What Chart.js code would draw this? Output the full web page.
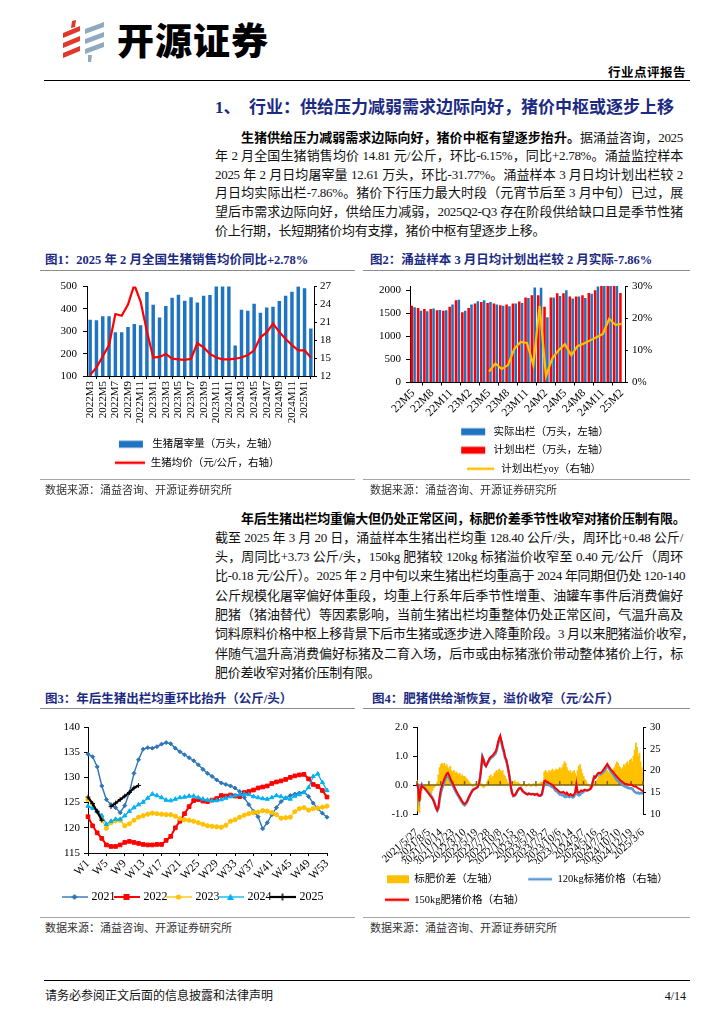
<!DOCTYPE html>
<html lang="zh-CN">
<head>
<meta charset="utf-8">
<title>开源证券 行业点评报告</title>
<script src="https://cdn.jsdelivr.net/npm/chart.js@4.4.1/dist/chart.umd.min.js"></script>
<style>
  html, body { margin: 0; padding: 0; background: #fff; }
  body { position: relative; width: 724px; height: 1024px; overflow: hidden;
         font-family: "Liberation Serif", "Noto Sans CJK SC", serif; color: #000; }
  .a { position: absolute; white-space: nowrap; }
  .rule { position: absolute; height: 0; }
  .logo-name { left: 117px; top: 21px; font: 900 37px/37px "Noto Sans CJK SC", sans-serif; letter-spacing: 1px; }
  .doc-type { right: 38px; top: 64px; font: 700 12.5px/16px "Noto Sans CJK SC", sans-serif; letter-spacing: 0.5px; }
  .h1 { left: 215px; top: 97px; font: 700 17px/22px "Liberation Serif", "Noto Sans CJK SC", serif; color: #1b2a82; }
  .ln { position: absolute; left: 215px; width: 468px; height: 19px; font-size: 13px; line-height: 19px;
        white-space: nowrap; text-align: justify; text-align-last: justify; letter-spacing: -0.3px; color: #111; }
  .ln.in { left: 241px; width: 442px; }
  .ln.end { text-align-last: left; }
  .ln b { font-weight: 700; color: #000; }
  .fig { font: 700 12.5px/16px "Liberation Serif", "Noto Sans CJK SC", serif; color: #1b2a82; }
  .src { font: 400 11px/14px "Liberation Serif", "Noto Sans CJK SC", serif; color: #333; }
  .foot { font: 400 12px/16px "Liberation Serif", "Noto Sans CJK SC", serif; color: #111; }
  canvas { position: absolute; }
</style>
</head>
<body>

<svg class="a" style="left:60px;top:19px" width="48" height="46" viewBox="60 19 48 46">
  <g fill="#e0392b">
    <polygon points="72,21 76,20 75,27 71,28"/>
    <polygon points="63,33 80,26 80,31 63,38"/>
    <polygon points="63,43 80,36 80,41 63,48"/>
    <polygon points="63,53 80,46 80,51 63,58"/>
  </g>
  <g fill="#8faabf">
    <polygon points="85,29 104,22 104,27 85,34"/>
    <polygon points="85,39 104,32 104,37 85,44"/>
    <polygon points="85,49 104,42 104,47 85,54"/>
    <polygon points="88,55 92,55 91,62 88,62"/>
  </g>
</svg>
<div class="a logo-name">开源证券</div>
<div class="a doc-type">行业点评报告</div>
<div class="rule" style="left:44px;top:80px;width:646px;border-top:1.5px solid #000"></div>

<div class="a h1">1、&nbsp;&nbsp;行业：供给压力减弱需求边际向好，猪价中枢或逐步上移</div>

<div class="ln in" style="top:127.5px"><b>生猪供给压力减弱需求边际向好，猪价中枢有望逐步抬升。</b>据涌益咨询，2025</div>
<div class="ln" style="top:146.1px">年 2 月全国生猪销售均价 14.81 元/公斤，环比-6.15%，同比+2.78%。涌益监控样本</div>
<div class="ln" style="top:164.7px">2025 年 2 月日均屠宰量 12.61 万头，环比-31.77%。涌益样本 3 月日均计划出栏较 2</div>
<div class="ln" style="top:183.3px">月日均实际出栏-7.86%。猪价下行压力最大时段（元宵节后至 3 月中旬）已过，展</div>
<div class="ln" style="top:201.9px">望后市需求边际向好，供给压力减弱，2025Q2-Q3 存在阶段供给缺口且是季节性猪</div>
<div class="ln end" style="top:220.5px">价上行期，长短期猪价均有支撑，猪价中枢有望逐步上移。</div>

<div class="a fig" style="left:45px;top:252px">图1：2025 年 2 月全国生猪销售均价同比+2.78%</div>
<div class="a fig" style="left:370px;top:252px">图2：涌益样本 3 月日均计划出栏较 2 月实际-7.86%</div>
<div class="rule" style="left:40px;top:270px;width:315px;border-top:1px solid #8c8c8c"></div>
<div class="rule" style="left:363px;top:270px;width:327px;border-top:1px solid #8c8c8c"></div>

<canvas id="chart1" width="315" height="204" style="left:40px;top:274px"></canvas>
<canvas id="chart2" width="327" height="210" style="left:363px;top:274px"></canvas>

<div class="rule" style="left:40px;top:479px;width:315px;border-top:1px solid #a6a6a6"></div>
<div class="rule" style="left:363px;top:479px;width:327px;border-top:1px solid #a6a6a6"></div>
<div class="a src" style="left:45px;top:483px">数据来源：涌益咨询、开源证券研究所</div>
<div class="a src" style="left:370px;top:483px">数据来源：涌益咨询、开源证券研究所</div>

<div class="ln in" style="top:508.5px"><b>年后生猪出栏均重偏大但仍处正常区间，标肥价差季节性收窄对猪价压制有限。</b></div>
<div class="ln" style="top:527.8px">截至 2025 年 3 月 20 日，涌益样本生猪出栏均重 128.40 公斤/头，周环比+0.48 公斤/</div>
<div class="ln" style="top:547.1px">头，周同比+3.73 公斤/头，150kg 肥猪较 120kg 标猪溢价收窄至 0.40 元/公斤（周环</div>
<div class="ln" style="top:566.4px">比-0.18 元/公斤）。2025 年 2 月中旬以来生猪出栏均重高于 2024 年同期但仍处 120-140</div>
<div class="ln" style="top:585.7px">公斤规模化屠宰偏好体重段，均重上行系年后季节性增重、油罐车事件后消费偏好</div>
<div class="ln" style="top:605px">肥猪（猪油替代）等因素影响，当前生猪出栏均重整体仍处正常区间，气温升高及</div>
<div class="ln" style="top:624.3px">饲料原料价格中枢上移背景下后市生猪或逐步进入降重阶段。3 月以来肥猪溢价收窄，</div>
<div class="ln" style="top:643.6px">伴随气温升高消费偏好标猪及二育入场，后市或由标猪涨价带动整体猪价上行，标</div>
<div class="ln end" style="top:662.9px">肥价差收窄对猪价压制有限。</div>

<div class="a fig" style="left:45px;top:691px">图3：年后生猪出栏均重环比抬升（公斤/头）</div>
<div class="a fig" style="left:372px;top:691px">图4：肥猪供给渐恢复，溢价收窄（元/公斤）</div>
<div class="rule" style="left:40px;top:708px;width:315px;border-top:1px solid #8c8c8c"></div>
<div class="rule" style="left:363px;top:708px;width:327px;border-top:1px solid #8c8c8c"></div>

<canvas id="chart3" width="315" height="201" style="left:40px;top:712px"></canvas>
<canvas id="chart4" width="335" height="203" style="left:355px;top:712px"></canvas>

<div class="rule" style="left:40px;top:917px;width:315px;border-top:1px solid #a6a6a6"></div>
<div class="rule" style="left:363px;top:917px;width:327px;border-top:1px solid #a6a6a6"></div>
<div class="a src" style="left:45px;top:921px">数据来源：涌益咨询、开源证券研究所</div>
<div class="a src" style="left:370px;top:921px">数据来源：涌益咨询、开源证券研究所</div>

<div class="rule" style="left:44px;top:980px;width:646px;border-top:1.5px solid #000"></div>
<div class="a foot" style="left:45px;top:988px">请务必参阅正文后面的信息披露和法律声明</div>
<div class="a foot" style="right:38px;top:988px">4/14</div>

<script>
// 图1：全国生猪屠宰量与均价
const months1 = ['2022M3', '2022M4', '2022M5', '2022M6', '2022M7', '2022M8', '2022M9', '2022M10', '2022M11', '2022M12',
  '2023M1', '2023M2', '2023M3', '2023M4', '2023M5', '2023M6', '2023M7', '2023M8', '2023M9', '2023M10', '2023M11', '2023M12',
  '2024M1', '2024M2', '2024M3', '2024M4', '2024M5', '2024M6', '2024M7', '2024M8', '2024M9', '2024M10', '2024M11', '2024M12',
  '2025M1', '2025M2'];
const slaughter1 = [352, 349, 367, 367, 296, 296, 319, 333, 327, 476,
  419, 362, 413, 450, 463, 437, 452, 429, 459, 462,
  515, 530, 510, 236, 396, 392, 423, 383, 407, 410,
  436, 459, 477, 502, 493, 313];
const price1 = [12.2, 13.4, 15.3, 17.2, 22.4, 22.1, 24.0, 27.3, 24.5, 19.5,
  15.1, 15.2, 15.7, 14.9, 14.8, 14.7, 14.9, 17.5, 16.8, 15.7,
  15.1, 14.8, 14.8, 14.9, 15.1, 15.5, 16.3, 18.5, 19.3, 20.8,
  19.4, 18.2, 17.2, 16.3, 16.3, 15.1];
const c1Left = [100, 200, 300, 400, 500];
const c1Right = [12, 15, 18, 21, 24, 27];

// 图2：涌益样本实际/计划出栏
const months2 = ['22M5', '22M6', '22M7', '22M8', '22M9', '22M10', '22M11', '22M12',
  '23M1', '23M2', '23M3', '23M4', '23M5', '23M6', '23M7', '23M8', '23M9', '23M10', '23M11', '23M12',
  '24M1', '24M2', '24M3', '24M4', '24M5', '24M6', '24M7', '24M8', '24M9', '24M10', '24M11', '24M12',
  '25M1', '25M2'];
const actual2 = [1640, 1560, 1550, 1610, 1580, 1570, 1700, 1800, 1560, 1700,
  1770, 1790, 1750, 1700, 1670, 1660, 1720, 1730, 1840, 2070,
  2060, 1420, 1850, 1880, 2010, 1830, 1870, 1840, 1930, 2090,
  2180, 2200, 2150, null];
const plan2 = [1670, 1620, 1600, 1600, 1570, 1560, 1650, 1790, 1530, 1620,
  1720, 1750, 1730, 1720, 1680, 1700, 1720, 1760, 1850, 1900,
  1900, 1650, 1850, 1940, 1940, 1870, 1870, 1900, 1950, 2010,
  2160, 2150, 2120, 1950];
const yoy2 = [null, null, null, null, null, null, null, null, null, null, null, null,
  3.4, 5.9, 4.2, 5.4, 10.5, 12.6, 12.3, 5.4, 23.8, 2.0,
  7.5, 10.0, 11.9, 8.5, 11.3, 12.1, 13.1, 14.1, 15.1, 19.8,
  17.9, 18.2];
const c2Left = [0, 500, 1000, 1500, 2000];
const c2Right = [0, 5, 10, 15, 20, 25, 30];

// 图3：出栏均重（公斤/头），按周
const weeks3 = ['W1', 'W2', 'W3', 'W4', 'W5', 'W6', 'W7', 'W8', 'W9', 'W10', 'W11', 'W12', 'W13', 'W14', 'W15',
  'W16', 'W17', 'W18', 'W19', 'W20', 'W21', 'W22', 'W23', 'W24', 'W25', 'W26', 'W27', 'W28', 'W29', 'W30',
  'W31', 'W32', 'W33', 'W34', 'W35', 'W36', 'W37', 'W38', 'W39', 'W40', 'W41', 'W42', 'W43', 'W44', 'W45',
  'W46', 'W47', 'W48', 'W49', 'W50', 'W51', 'W52', 'W53'];
const w2021 = [134.6, 134.1, 132.1, 128.3, 125.6, 124.6, 124.0, 123.0, 124.4, 127.0,
  130.8, 133.5, 135.6, 135.9, 135.8, 136.1, 136.6, 136.9, 136.7, 135.8,
  135.1, 134.5, 133.9, 133.3, 132.5, 131.6, 130.8, 130.2, 129.5, 128.9,
  128.6, 128.3, 127.9, 127.2, 126.0, 124.6, 123.3, 122.2, 119.8, 121.0,
  122.6, 124.0, 125.2, 125.9, 126.4, 126.7, 126.9, 127.1, 126.2, 124.9,
  123.8, 122.9, 122.1];
const w2022 = [122.2, 120.4, 119.0, 117.9, 116.6, 116.3, 116.3, 116.6, 117.1, 117.3,
  117.1, 116.9, 116.7, 116.6, 116.6, 116.7, 116.7, 117.5, 118.3, 120.0,
  121.3, 122.8, 124.2, 125.4, 125.6, 125.3, 125.2, 125.5, 125.8, 126.4,
  126.3, 126.5, 126.3, 126.2, 127.0, 127.2, 127.5, 127.9, 128.1, 128.3,
  128.8, 129.1, 129.3, 129.6, 130.0, 130.3, 130.5, 130.6, 129.7, 128.6,
  128.2, 127.4, 126.1];
const w2023 = [125.6, 124.7, 123.2, 121.6, 119.9, 121.0, 121.4, 121.5, 120.4, 120.8,
  121.5, 122.1, 122.4, 122.7, 122.9, 122.8, 122.7, 122.6, 122.6, 122.3,
  121.8, 121.6, 121.5, 121.3, 121.0, 120.7, 120.4, 120.3, 120.2, 120.1,
  120.5, 121.3, 121.6, 122.1, 122.5, 122.8, 123.0, 123.1, 123.4, 123.3,
  123.0, 122.6, 121.9, 122.0, 122.1, 123.2, 123.8, 124.0, 123.5, 123.8,
  123.9, 124.1, 124.3];
const w2024 = [124.3, 123.9, 123.3, 122.4, 120.7, 121.3, 121.7, 121.7, 122.4, 123.3,
  124.0, 124.6, 125.1, 125.9, 126.7, 126.4, 126.0, 125.5, 125.4, 125.7,
  126.0, 126.1, 126.3, 126.3, 126.0, 125.7, 125.5, 125.4, 125.4, 125.6,
  125.9, 126.2, 126.4, 126.6, 126.7, 126.6, 126.2, 126.0, 125.8, 125.7,
  126.0, 126.4, 126.2, 125.9, 125.7, 126.3, 126.6, 127.0, 128.0, 130.2,
  130.7, 129.0, 127.4];
const w2025 = [126.1, 124.8, 123.2, 121.5, null, 124.2, 124.9, 125.6, 126.3, 127.0, 127.9, 128.4];
const c3Left = [115, 120, 125, 130, 135, 140];

// 图4：标肥价差与 120kg / 150kg 价格（元/公斤），按周
const dates4 = ['2021/5/27', '2021/8/5', '2021/10/14', '2021/12/23', '2022/3/10', '2022/5/19', '2022/7/28',
  '2022/10/8', '2022/12/15', '2023/3/9', '2023/5/18', '2023/7/27', '2023/10/6', '2023/12/14',
  '2024/3/7', '2024/5/16', '2024/7/25', '2024/10/10', '2024/12/19', '2025/3/6'];
const spread4 = [0.15, -0.9, -0.95, -0.5, -0.2, -0.1, -0.05, -0.1, -0.15, -0.2,
  -0.2, -0.25, -0.3, -0.2, -0.1, -0.05, 0.0, 0.1, 0.35, 0.6,
  0.7, 0.75, 0.7, 0.75, 0.65, 0.7, 0.6, 0.55, 0.65, 0.5,
  0.45, 0.5, 0.4, 0.45, 0.4, 0.35, 0.4, 0.3, 0.35, 0.3,
  0.3, 0.25, 0.2, 0.15, 0.1, 0.05, 0.0, -0.05, 0.0, 0.05,
  0.0, -0.05, 0.0, 0.1, 0.05, -0.05, -0.1, -0.05, 0.0, 0.1,
  0.2, 0.3, 0.35, 0.25, 0.3, 0.4, 0.45, 0.5, 0.45, 0.55,
  0.5, 0.45, 0.5, 0.35, 0.3, 0.2, 0.1, 0.05, 0.0, -0.05,
  0.0, 0.1, 0.15, 0.1, 0.05, 0.1, 0.05, 0.0, -0.05, 0.0,
  0.05, 0.0, -0.05, 0.0, 0.05, 0.0, -0.05, 0.0, 0.05, 0.0,
  -0.05, 0.0, 0.05, 0.05, 0.1, 0.1, 0.1, 0.45, 0.5, 0.45,
  0.4, 0.5, 0.45, 0.5, 0.55, 0.45, 0.5, 0.55, 0.5, 0.55,
  0.6, 0.55, 0.6, 0.7, 0.8, 0.75, 0.6, 0.5, 0.45, 0.5,
  0.4, 0.45, 0.5, 0.4, 0.3, 0.5, 0.65, 0.7, 0.55, 0.4,
  0.3, 0.2, 0.15, 0.05, 0.0, -0.05, -0.1, -0.1, -0.05, 0.0,
  0.05, 0.15, 0.2, 0.3, 0.35, 0.4, 0.45, 0.5, 0.6, 0.55,
  0.5, 0.45, 0.4, 0.5, 0.45, 0.55, 0.6, 0.7, 0.8, 0.75,
  0.65, 0.6, 0.55, 0.6, 0.7, 0.65, 0.75, 0.8, 0.7, 0.85,
  0.9, 0.8, 1.0, 1.2, 1.45, 1.3, 1.0, 1.1, 0.8, 0.6,
  0.4];
const std120 = [16.9, 16.7, 13.9, 16.0, 16.8, 16.3, 16.1, 15.8, 15.5, 15.2,
  14.8, 14.5, 14.2, 13.7, 13.1, 12.3, 11.4, 10.8, 11.3, 13.2,
  14.9, 15.8, 16.6, 17.4, 18.1, 18.6, 18.9, 18.4, 17.6, 17.1,
  16.6, 16.0, 15.5, 14.9, 14.4, 14.0, 13.5, 13.1, 12.6, 12.2,
  12.0, 12.3, 12.7, 13.4, 14.0, 14.6, 15.1, 15.6, 15.7, 15.9,
  16.0, 16.3, 16.9, 18.2, 20.6, 23.2, 22.5, 21.4, 21.0, 21.5,
  22.0, 22.5, 22.8, 23.1, 23.3, 23.6, 23.9, 24.6, 25.9, 26.9,
  27.5, 26.4, 25.1, 24.3, 22.9, 22.3, 21.2, 19.8, 18.2, 16.1,
  14.8, 14.1, 14.2, 14.5, 15.1, 15.5, 15.9, 16.0, 15.7, 15.2,
  15.0, 14.8, 14.7, 14.5, 14.7, 14.6, 14.6, 14.6, 14.6, 14.4,
  14.6, 14.6, 14.3, 14.2, 14.2, 14.5, 15.8, 17.2, 17.2, 17.0,
  16.9, 16.6, 16.6, 16.3, 16.1, 16.0, 15.5, 15.3, 15.1, 14.8,
  14.5, 14.5, 14.3, 14.4, 14.0, 13.9, 14.3, 14.0, 13.9, 14.1,
  14.0, 13.8, 14.0, 14.6, 16.5, 14.5, 14.3, 14.4, 14.9, 14.9,
  15.1, 15.4, 15.4, 15.4, 15.5, 15.7, 15.9, 16.6, 17.7, 18.6,
  18.4, 18.8, 19.1, 19.2, 19.1, 19.2, 19.5, 19.8, 20.1, 20.6,
  21.0, 20.6, 20.2, 19.7, 19.5, 19.1, 18.6, 18.2, 17.8, 17.6,
  17.4, 17.1, 17.0, 16.7, 16.4, 16.3, 16.2, 16.0, 16.0, 15.9,
  15.9, 15.8, 15.4, 15.1, 14.9, 14.8, 14.9, 14.7, 14.8, 14.8,
  14.8];
const fat150 = [17.0, 15.8, 12.9, 15.5, 16.6, 16.2, 16.0, 15.7, 15.3, 15.0,
  14.6, 14.2, 13.9, 13.5, 13.0, 12.2, 11.4, 10.9, 11.6, 13.8,
  15.6, 16.5, 17.3, 18.1, 18.7, 19.3, 19.5, 18.9, 18.2, 17.6,
  17.0, 16.5, 15.9, 15.3, 14.8, 14.3, 13.9, 13.4, 12.9, 12.5,
  12.3, 12.5, 12.9, 13.5, 14.1, 14.6, 15.1, 15.5, 15.7, 15.9,
  16.0, 16.2, 16.9, 18.3, 20.6, 23.1, 22.4, 21.3, 21.0, 21.6,
  22.2, 22.8, 23.1, 23.3, 23.6, 24.0, 24.3, 25.1, 26.3, 27.4,
  28.0, 26.8, 25.6, 24.6, 23.2, 22.5, 21.3, 19.8, 18.2, 16.0,
  14.8, 14.2, 14.3, 14.6, 15.1, 15.6, 15.9, 16.0, 15.6, 15.2,
  15.0, 14.8, 14.6, 14.5, 14.7, 14.6, 14.5, 14.6, 14.6, 14.4,
  14.5, 14.6, 14.3, 14.2, 14.3, 14.6, 15.9, 17.6, 17.7, 17.4,
  17.3, 17.1, 17.0, 16.8, 16.6, 16.4, 16.0, 15.8, 15.6, 15.3,
  15.1, 15.0, 14.9, 15.1, 14.8, 14.6, 14.9, 14.5, 14.3, 14.6,
  14.4, 14.2, 14.5, 15.0, 16.8, 15.0, 14.9, 15.1, 15.4, 15.3,
  15.4, 15.6, 15.5, 15.4, 15.5, 15.6, 15.8, 16.5, 17.6, 18.6,
  18.4, 18.9, 19.3, 19.5, 19.4, 19.6, 19.9, 20.3, 20.7, 21.1,
  21.5, 21.0, 20.6, 20.2, 19.9, 19.6, 19.2, 18.9, 18.6, 18.3,
  18.0, 17.7, 17.5, 17.3, 17.1, 16.9, 16.9, 16.8, 16.7, 16.7,
  16.8, 16.6, 16.4, 16.3, 16.3, 16.1, 15.9, 15.8, 15.6, 15.4,
  15.2];
const c4Left = [-1, -0.5, 0, 0.5, 1, 1.5, 2];
const c4Right = [10, 15, 20, 25, 30];

const SERIF = '"Liberation Serif", "Noto Sans CJK SC", serif';
Chart.defaults.font.family = SERIF;
Chart.defaults.color = '#000';
Chart.defaults.animation = false;
Chart.defaults.responsive = false;
Chart.defaults.plugins.tooltip.enabled = false;

// 坐标轴小工具
const setTicks = values => scale => { scale.ticks = values.map(v => ({ value: v })); };
const everyNth = n => scale => { scale.ticks = scale.ticks.filter(t => t.value % n === 0); };
const fixWidth = w => scale => { scale.width = w; };
const fixHeight = h => scale => { scale.height = h; };
const sideGrid = { display: true, drawOnChartArea: false, drawTicks: true, tickLength: 4, color: '#000' };
const blackBorder = { display: true, color: '#000', width: 1 };

// 图例图标（小画布）
function icon(w, h, draw) {
  const c = document.createElement('canvas');
  c.width = w; c.height = h;
  draw(c.getContext('2d'));
  return c;
}
const boxIcon = (w, h, x0, bw, bh, color) => icon(w, h, ctx => {
  ctx.fillStyle = color;
  ctx.fillRect(x0, (h - bh) / 2, bw, bh);
});
const lineIcon = (w, h, x0, x1, lw, color) => icon(w, h, ctx => {
  ctx.strokeStyle = color; ctx.lineWidth = lw;
  ctx.beginPath(); ctx.moveTo(x0, h / 2); ctx.lineTo(x1, h / 2); ctx.stroke();
});
function markerIcon(color, shape, lw) {
  return icon(26, 10, ctx => {
    ctx.strokeStyle = color; ctx.fillStyle = color; ctx.lineWidth = lw;
    ctx.beginPath(); ctx.moveTo(0, 5); ctx.lineTo(26, 5); ctx.stroke();
    ctx.beginPath();
    if (shape === 'rect') ctx.rect(10, 2, 6, 6);
    else if (shape === 'circle') ctx.arc(13, 5, 2.6, 0, Math.PI * 2);
    else if (shape === 'triangle') { ctx.moveTo(13, 1.5); ctx.lineTo(16.5, 8); ctx.lineTo(9.5, 8); ctx.closePath(); }
    else if (shape === 'rectRot') { ctx.moveTo(13, 2); ctx.lineTo(16, 5); ctx.lineTo(13, 8); ctx.lineTo(10, 5); ctx.closePath(); }
    if (shape === 'cross') { ctx.lineWidth = 1.5; ctx.moveTo(13, 1.5); ctx.lineTo(13, 8.5); ctx.stroke(); }
    else ctx.fill();
  });
}
function legendWith(icons, labels, extra) {
  return Object.assign({
    display: true,
    position: 'bottom',
    labels: Object.assign({
      usePointStyle: true,
      color: '#000',
      generateLabels: chart => chart.data.datasets.map((ds, i) => ({
        text: ds.label, pointStyle: icons[i], datasetIndex: i, hidden: false,
        fillStyle: 'rgba(0,0,0,0)', strokeStyle: 'rgba(0,0,0,0)', lineWidth: 0, fontColor: '#000'
      }))
    }, labels)
  }, extra);
}

// ---------- 图1 ----------
new Chart(document.getElementById('chart1'), {
  type: 'bar',
  data: {
    labels: months1,
    datasets: [
      { type: 'bar', label: '生猪屠宰量（万头，左轴）', data: slaughter1, yAxisID: 'y',
        backgroundColor: '#1f74c2', categoryPercentage: 0.55, barPercentage: 1, order: 2 },
      { type: 'line', label: '生猪均价（元/公斤，右轴）', data: price1, yAxisID: 'y1',
        borderColor: '#ff0000', borderWidth: 2.2, pointRadius: 0, tension: 0, order: 1 }
    ]
  },
  options: {
    layout: { padding: { top: 12, left: 0, right: 0, bottom: 0 } },
    scales: {
      x: {
        grid: { display: true, drawOnChartArea: false, drawTicks: true, tickLength: 3, color: '#000' },
        border: blackBorder,
        ticks: { autoSkip: false, minRotation: 90, maxRotation: 90, padding: 2, font: { size: 11 } },
        afterBuildTicks: everyNth(2), afterFit: fixHeight(55)
      },
      y: {
        min: 100, max: 500, position: 'left', grid: sideGrid, border: blackBorder,
        ticks: { font: { size: 11 }, padding: 6, callback: v => String(v) },
        afterBuildTicks: setTicks(c1Left), afterFit: fixWidth(47)
      },
      y1: {
        min: 12, max: 27, position: 'right', grid: Object.assign({}, sideGrid, { tickLength: 3 }), border: blackBorder,
        ticks: { font: { size: 11 }, padding: 3, callback: v => String(v) },
        afterBuildTicks: setTicks(c1Right), afterFit: fixWidth(41)
      }
    },
    plugins: {
      legend: legendWith([
        boxIcon(30, 10, 2, 24, 7, '#1f74c2'),
        lineIcon(30, 10, 0, 30, 2.5, '#ff0000')
      ], { pointStyleWidth: 30, padding: 8, font: { size: 10.5 } })
    }
  }
});

// ---------- 图2 ----------
new Chart(document.getElementById('chart2'), {
  type: 'bar',
  data: {
    labels: months2,
    datasets: [
      { type: 'bar', label: '实际出栏（万头，左轴）', data: actual2, yAxisID: 'y',
        backgroundColor: '#1f74c2', categoryPercentage: 0.9, barPercentage: 0.9, order: 3 },
      { type: 'bar', label: '计划出栏（万头，左轴）', data: plan2, yAxisID: 'y',
        backgroundColor: '#ff0000', categoryPercentage: 0.9, barPercentage: 0.9, order: 2 },
      { type: 'line', label: '计划出栏yoy（右轴）', data: yoy2, yAxisID: 'y1',
        borderColor: '#ffc000', borderWidth: 2.2, pointRadius: 0, tension: 0, order: 1 }
    ]
  },
  options: {
    layout: { padding: { top: 12, left: 0, right: 0, bottom: 0 } },
    scales: {
      x: {
        grid: { display: true, drawOnChartArea: false, drawTicks: true, tickLength: 3, color: '#000' },
        border: blackBorder,
        ticks: { autoSkip: false, minRotation: 45, maxRotation: 45, padding: 1, font: { size: 11.5 } },
        afterBuildTicks: everyNth(3), afterFit: fixHeight(36)
      },
      y: {
        min: 0, max: 2100, position: 'left', grid: sideGrid, border: blackBorder,
        ticks: { font: { size: 11 }, padding: 5, callback: v => String(v) },
        afterBuildTicks: setTicks(c2Left), afterFit: fixWidth(47)
      },
      y1: {
        min: 0, max: 30, position: 'right', grid: Object.assign({}, sideGrid, { tickLength: 3 }), border: blackBorder,
        ticks: { font: { size: 11 }, padding: 4, callback: v => v + '%' },
        afterBuildTicks: setTicks(c2Right), afterFit: fixWidth(65)
      }
    },
    plugins: {
      legend: legendWith([
        boxIcon(44, 10, 17, 24, 7, '#1f74c2'),
        boxIcon(44, 10, 17, 24, 7, '#ff0000'),
        lineIcon(44, 10, 15, 42, 2.5, '#ffc000')
      ], { pointStyleWidth: 44, padding: 8, font: { size: 10.5 } })
    }
  }
});

// ---------- 图3 ----------
const series3 = [
  { label: '2021', data: w2021, color: '#2e75b6', shape: 'rectRot', width: 1.4, r: 2 },
  { label: '2022', data: w2022, color: '#ff0000', shape: 'rect', width: 2, r: 2.6 },
  { label: '2023', data: w2023, color: '#ffc000', shape: 'circle', width: 1.3, r: 2.1 },
  { label: '2024', data: w2024, color: '#00b0f0', shape: 'triangle', width: 1.3, r: 2.4 },
  { label: '2025', data: w2025, color: '#000000', shape: 'cross', width: 2.2, r: 2.4 }
];
new Chart(document.getElementById('chart3'), {
  type: 'line',
  data: {
    labels: weeks3,
    datasets: series3.map((s, i) => ({
      label: s.label, data: s.data, borderColor: s.color, backgroundColor: s.color,
      borderWidth: s.width, pointStyle: s.shape, pointRadius: s.r, pointBorderWidth: 1,
      pointBorderColor: s.color, pointBackgroundColor: s.color, tension: 0, spanGaps: false,
      order: series3.length - i
    }))
  },
  options: {
    layout: { padding: { top: 15, left: 20, right: 28, bottom: 0 } },
    scales: {
      x: {
        offset: false,
        grid: { display: true, drawOnChartArea: false, drawTicks: true, tickLength: 3, color: '#000' },
        border: blackBorder,
        ticks: { autoSkip: false, minRotation: 45, maxRotation: 45, padding: 1, font: { size: 11.5 } },
        afterBuildTicks: everyNth(4), afterFit: fixHeight(38)
      },
      y: {
        min: 115, max: 140, grid: sideGrid, border: blackBorder,
        ticks: { font: { size: 11 }, padding: 4, callback: v => String(v) },
        afterBuildTicks: setTicks(c3Left), afterFit: fixWidth(28)
      }
    },
    plugins: {
      legend: legendWith(series3.map(s => markerIcon(s.color, s.shape, s.width)),
        { pointStyleWidth: 22, padding: 0, font: { size: 12 } })
    }
  }
});

// ---------- 图4 ----------
const weeks4 = spread4.map((_, i) => (i % 10 === 0 ? dates4[i / 10] : ''));
// 左轴 0 处的横线与刻度（画在价差柱之上、价格线之下）
const zeroLine = {
  id: 'zeroLine',
  afterDatasetDraw(chart, args) {
    if (args.meta.type !== 'bar') return;
    const { ctx, chartArea, scales } = chart;
    const y0 = scales.y.getPixelForValue(0);
    ctx.save();
    ctx.strokeStyle = '#7f6000';
    ctx.lineWidth = 1.5;
    ctx.beginPath();
    ctx.moveTo(chartArea.left, y0);
    ctx.lineTo(chartArea.right, y0);
    scales.x.ticks.forEach(t => {
      const x = scales.x.getPixelForValue(t.value);
      ctx.moveTo(x, y0);
      ctx.lineTo(x, y0 - 4);
    });
    ctx.stroke();
    ctx.restore();
  }
};
new Chart(document.getElementById('chart4'), {
  type: 'bar',
  data: {
    labels: weeks4,
    datasets: [
      { type: 'bar', label: '标肥价差（左轴）', data: spread4, yAxisID: 'y',
        backgroundColor: '#ffc000', categoryPercentage: 1, barPercentage: 1, order: 3 },
      { type: 'line', label: '120kg标猪价格（右轴）', data: std120, yAxisID: 'y1',
        borderColor: '#5b9bd5', borderWidth: 2.6, pointRadius: 0, tension: 0, order: 2 },
      { type: 'line', label: '150kg肥猪价格（右轴）', data: fat150, yAxisID: 'y1',
        borderColor: '#ff0000', borderWidth: 2, pointRadius: 0, tension: 0, order: 1 }
    ]
  },
  options: {
    layout: { padding: { top: 15, left: 0, right: 0, bottom: 0 } },
    scales: {
      x: {
        offset: false,
        grid: { display: false },
        border: { display: false },
        ticks: { autoSkip: false, minRotation: 42, maxRotation: 42, padding: 4, font: { size: 11 } },
        afterBuildTicks: everyNth(10), afterFit: fixHeight(50)
      },
      y: {
        min: -1, max: 2, position: 'left', grid: sideGrid, border: blackBorder,
        ticks: { font: { size: 10.5 }, padding: 5, callback: v => v.toFixed(1) },
        afterBuildTicks: setTicks(c4Left), afterFit: fixWidth(62)
      },
      y1: {
        min: 10, max: 30, position: 'right', grid: Object.assign({}, sideGrid, { tickLength: 3 }), border: blackBorder,
        ticks: { font: { size: 10.5 }, padding: 4, callback: v => String(v) },
        afterBuildTicks: setTicks(c4Right), afterFit: fixWidth(47)
      }
    },
    plugins: {
      legend: legendWith([
        boxIcon(44, 10, 22, 22, 8, '#ffc000'),
        lineIcon(44, 10, 20, 44, 2.5, '#5b9bd5'),
        lineIcon(44, 10, 20, 44, 2.5, '#ff0000')
      ], { pointStyleWidth: 44, padding: 10, font: { size: 10.5 } }, { align: 'start' })
    }
  },
  plugins: [zeroLine]
});
</script>
</body>
</html>
